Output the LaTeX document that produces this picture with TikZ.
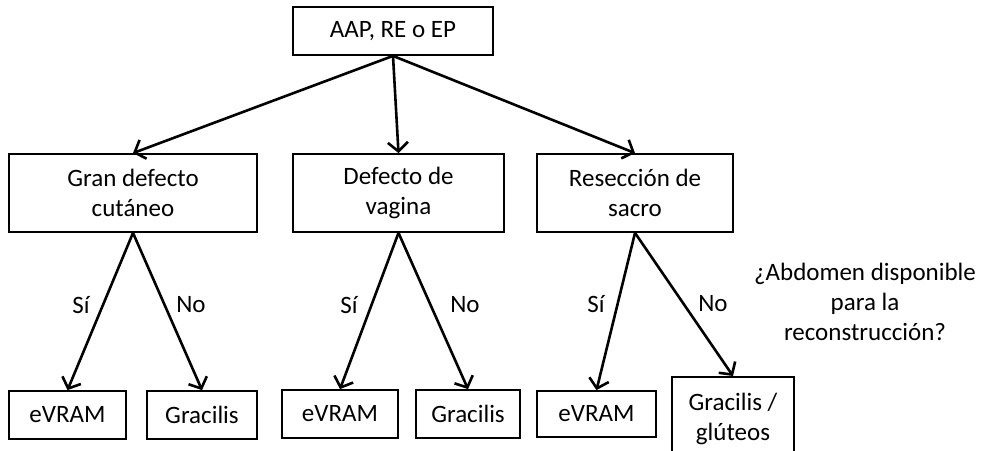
\documentclass[tikz,border=0pt]{standalone}
\usepackage{fontspec}
\setmainfont{Carlito}
\usetikzlibrary{arrows.meta}
\begin{document}
\begin{tikzpicture}[x=1pt,y=-1pt,
  box/.style={draw,line width=1.8pt,rectangle,inner sep=0pt,align=center,
    font=\fontsize{25}{30}\selectfont},
  lbl/.style={inner sep=0pt,align=center,font=\fontsize{25}{30}\selectfont},
  arr/.style={line width=2.6pt,-{Straight Barb[length=9pt,width=20pt,line width=2.6pt]}}]
\useasboundingbox (0,0) rectangle (987,450);
\node[box,minimum width=200pt,minimum height=48pt] (top) at (393,31) {AAP, RE o EP};
\node[box,minimum width=248pt,minimum height=78pt] (gran) at (133,193) {Gran defecto\\cutáneo};
\node[box,minimum width=211pt,minimum height=78pt] (vag) at (398.5,193) {Defecto de\\vagina};
\node[box,minimum width=196pt,minimum height=78pt] (sac) at (635,193) {Resección de\\sacro};
\node[box,minimum width=117pt,minimum height=48pt] (ev1) at (67.5,415) {eVRAM};
\node[box,minimum width=110pt,minimum height=48pt] (gr1) at (202,415) {Gracilis};
\node[box,minimum width=116pt,minimum height=48pt] (ev2) at (340,414) {eVRAM};
\node[box,minimum width=104pt,minimum height=48pt] (gr2) at (468,414) {Gracilis};
\node[box,minimum width=119pt,minimum height=46pt] (ev3) at (596.5,414) {eVRAM};
\node[box,minimum width=122pt,minimum height=80pt,anchor=north] (gr3) at (733,376) {\strut Gracilis /\\glúteos};
\draw[arr] (top.south) -- (gran.north);
\draw[arr] (top.south) -- (vag.north);
\draw[arr] (top.south) -- (sac.north);
\draw[arr] (gran.south) -- (ev1.north);
\draw[arr] (gran.south) -- (gr1.north);
\draw[arr] (vag.south) -- (ev2.north);
\draw[arr] (vag.south) -- (gr2.north);
\draw[arr] (sac.south) -- (ev3.north);
\draw[arr] (sac.south) -- (gr3.north);
\node[lbl] (s1) at (81,305) {Sí};
\node[lbl] (n1) at (191,305) {No};
\node[lbl] (s2) at (349,305) {Sí};
\node[lbl] (n2) at (465,305) {No};
\node[lbl] (s3) at (596,304) {Sí};
\node[lbl] (n3) at (713,304) {No};
\node[lbl] (q) at (865,302) {¿Abdomen disponible\\para la\\reconstrucción?};
\end{tikzpicture}
\end{document}
